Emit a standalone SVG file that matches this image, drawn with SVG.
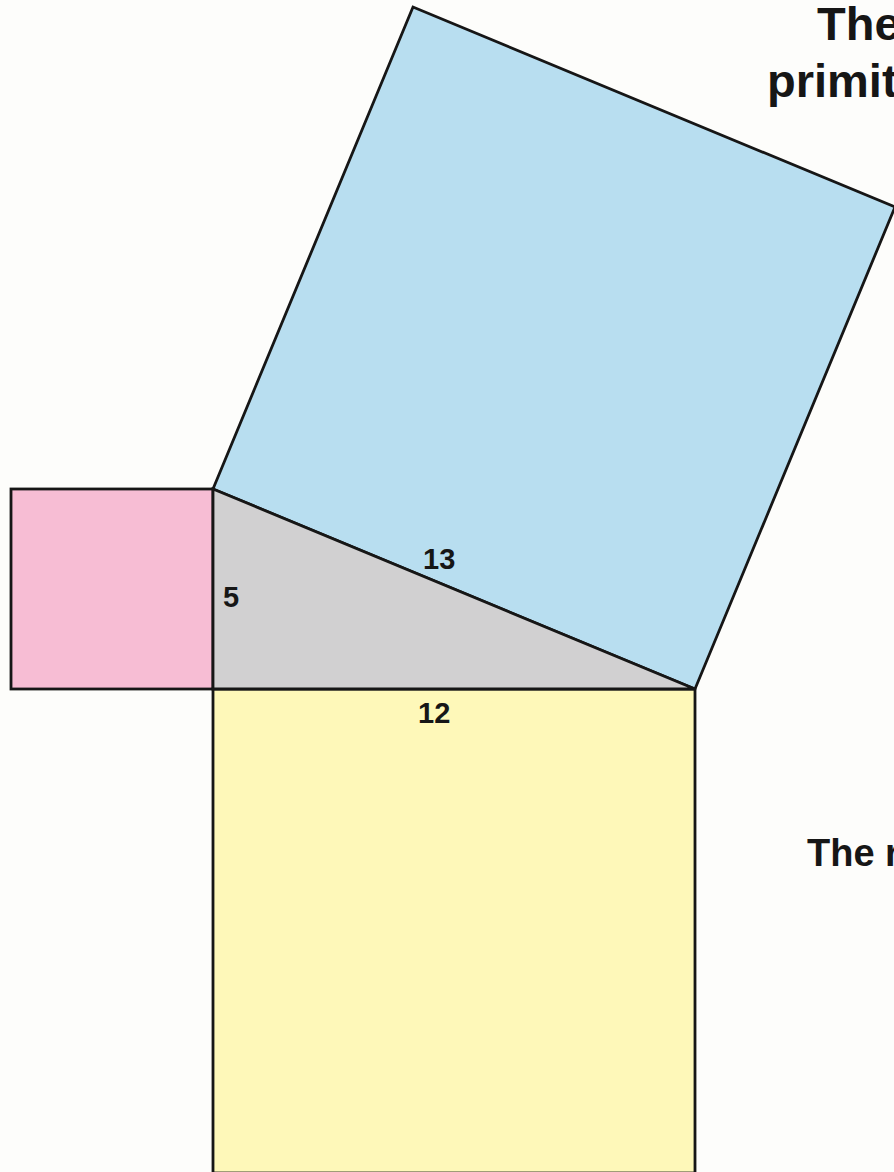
<svg xmlns="http://www.w3.org/2000/svg" width="894" height="1172" viewBox="0 0 894 1172">
<style>
.sh{stroke:#161616;stroke-width:2.8;stroke-linejoin:miter}
.t{font-family:"Liberation Sans",Arial,sans-serif;font-weight:bold;fill:#161616}
</style>
<rect x="0" y="0" width="894" height="1172" fill="#fdfdfb"/>
<g id="square-a">
<rect class="sh" x="11" y="489" width="202" height="200" fill="#f7bdd4"/>
</g>
<g id="square-b">
<rect class="sh" x="213" y="689" width="482" height="484" fill="#fef8b9"/>
</g>
<g id="square-c">
<polygon class="sh" points="213,489 413,7 895,207 695,689" fill="#b8def0"/>
</g>
<g id="triangle">
<polygon class="sh" points="213,489 695,689 213,689" fill="#d1d0d1"/>
</g>
<g id="labels">
<text class="t" x="423" y="569" font-size="29">13</text>
<text class="t" x="223" y="607" font-size="29">5</text>
<text class="t" x="418" y="723" font-size="29">12</text>
</g>
<g id="title">
<text class="t" x="817" y="40" font-size="47">The</text>
<text class="t" x="767" y="97" font-size="47">primit</text>
</g>
<g id="note">
<text class="t" x="807" y="866" font-size="38">The r</text>
</g>
</svg>
